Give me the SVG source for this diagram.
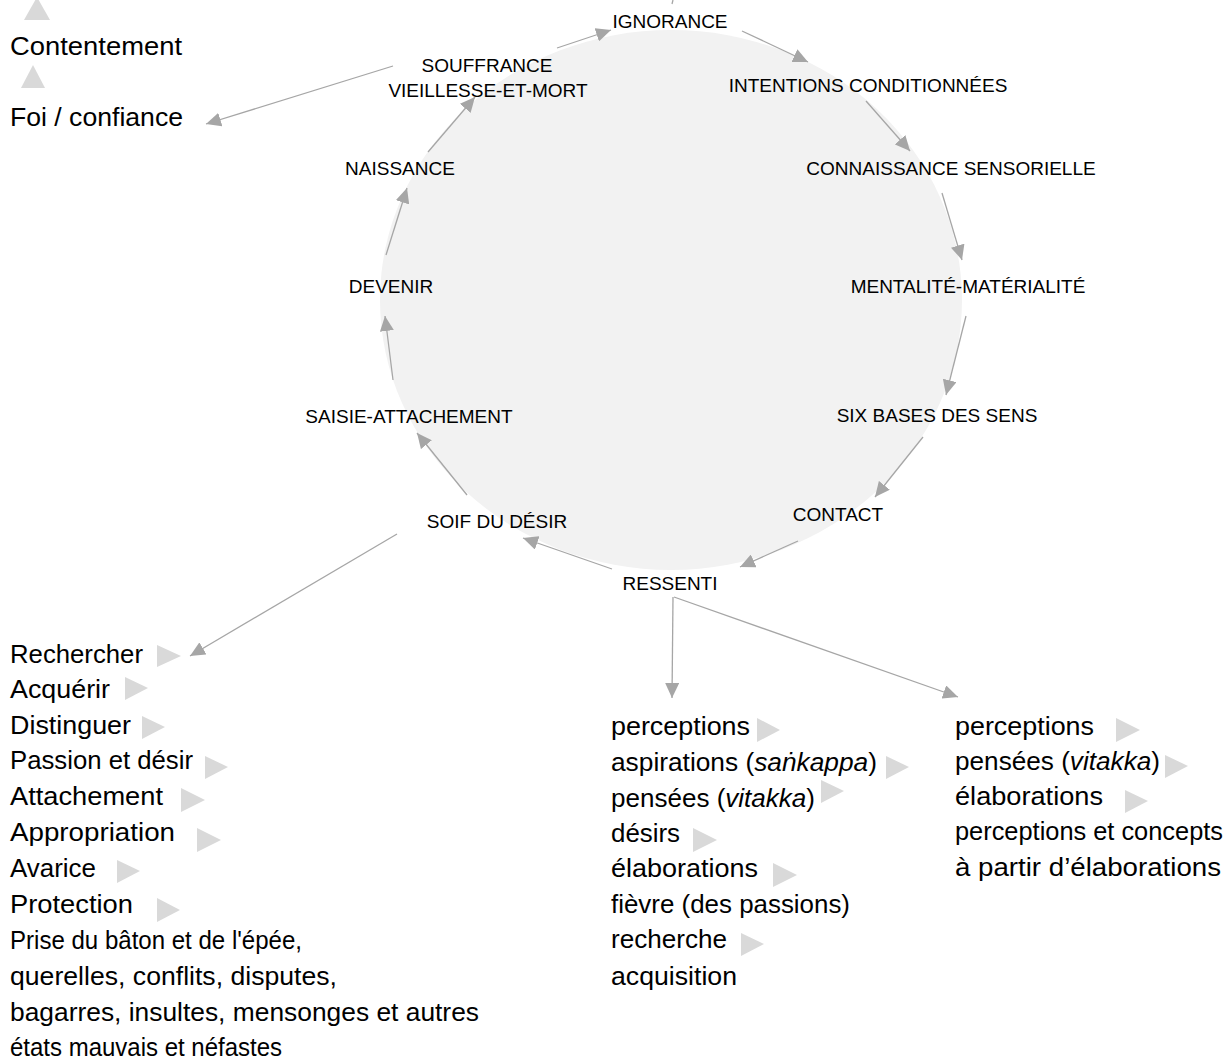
<svg xmlns="http://www.w3.org/2000/svg" width="1228" height="1061" viewBox="0 0 1228 1061">
<defs>
<style>
.lbl{font-family:"Liberation Sans",Arial,sans-serif;font-size:19px;fill:#000;text-anchor:middle}
.lst{font-family:"Liberation Sans",Arial,sans-serif;font-size:26px;fill:#000}
.it{font-style:italic}
.tri{fill:#d9d9d9}
.con{stroke:#a6a6a6;stroke-width:1.3;fill:none;marker-end:url(#ah)}
</style>
<marker id="ah" markerUnits="userSpaceOnUse" markerWidth="15" markerHeight="14" viewBox="0 0 15 14" refX="15" refY="7" orient="auto">
<path d="M0,0 L15,7 L0,14 z" fill="#a6a6a6"/>
</marker>
</defs>
<rect width="1228" height="1061" fill="#fff"/>
<ellipse id="cycle" cx="671" cy="300" rx="291" ry="270" fill="#f2f2f2"/>

<g id="connectors">
<line class="con" x1="557" y1="48" x2="611" y2="30"/>
<line class="con" x1="742" y1="31" x2="808" y2="62"/>
<line class="con" x1="866" y1="101" x2="910" y2="151"/>
<line class="con" x1="942" y1="193" x2="962" y2="260"/>
<line class="con" x1="966" y1="316" x2="946" y2="395"/>
<line class="con" x1="923" y1="437" x2="875" y2="497"/>
<line class="con" x1="798" y1="541" x2="740" y2="567"/>
<line class="con" x1="612" y1="569" x2="523" y2="538"/>
<line class="con" x1="467" y1="495" x2="417" y2="433"/>
<line class="con" x1="393" y1="380" x2="385" y2="316"/>
<line class="con" x1="386" y1="255" x2="407" y2="188"/>
<line class="con" x1="428" y1="152" x2="475" y2="97"/>
<line class="con" x1="393" y1="66" x2="206" y2="124"/>
<line class="con" x1="397" y1="534" x2="190" y2="656"/>
<line class="con" x1="673" y1="597" x2="672" y2="698"/>
<line class="con" x1="674" y1="597" x2="958" y2="697"/>
<line x1="673" y1="0" x2="672" y2="4" stroke="#a6a6a6" stroke-width="1.3"/>
</g>

<g id="n-ignorance"><text class="lbl" x="670" y="28">IGNORANCE</text></g>
<g id="n-intentions"><text class="lbl" x="868" y="92">INTENTIONS CONDITIONNÉES</text></g>
<g id="n-connaissance"><text class="lbl" x="951" y="175">CONNAISSANCE SENSORIELLE</text></g>
<g id="n-mentalite"><text class="lbl" x="968" y="293">MENTALITÉ-MATÉRIALITÉ</text></g>
<g id="n-sixbases"><text class="lbl" x="937" y="422">SIX BASES DES SENS</text></g>
<g id="n-contact"><text class="lbl" x="838" y="521">CONTACT</text></g>
<g id="n-ressenti"><text class="lbl" x="670" y="590">RESSENTI</text></g>
<g id="n-soif"><text class="lbl" x="497" y="528">SOIF DU DÉSIR</text></g>
<g id="n-saisie"><text class="lbl" x="409" y="423">SAISIE-ATTACHEMENT</text></g>
<g id="n-devenir"><text class="lbl" x="391" y="293">DEVENIR</text></g>
<g id="n-naissance"><text class="lbl" x="400" y="175">NAISSANCE</text></g>
<g id="n-souffrance"><text class="lbl" x="487" y="72">SOUFFRANCE</text><text class="lbl" x="488" y="97">VIEILLESSE-ET-MORT</text></g>

<g id="n-foi">
<polygon class="tri" points="24,20 50,20 37,-3"/>
<text class="lst" x="10" y="55" textLength="172" lengthAdjust="spacingAndGlyphs">Contentement</text>
<polygon class="tri" points="21,88 45,88 33,65"/>
<text class="lst" x="10" y="126" textLength="173" lengthAdjust="spacingAndGlyphs">Foi / confiance</text>
</g>

<g id="n-list-soif">
<text class="lst" x="10" y="663" textLength="133" lengthAdjust="spacingAndGlyphs">Rechercher</text>
<polygon class="tri" points="157,645 157,667 181,656"/>
<text class="lst" x="10" y="698" textLength="100" lengthAdjust="spacingAndGlyphs">Acquérir</text>
<polygon class="tri" points="125,677 125,700 148,688"/>
<text class="lst" x="10" y="734" textLength="121" lengthAdjust="spacingAndGlyphs">Distinguer</text>
<polygon class="tri" points="142,716 142,739 165,727"/>
<text class="lst" x="10" y="769" textLength="183" lengthAdjust="spacingAndGlyphs">Passion et désir</text>
<polygon class="tri" points="205,756 205,779 228,767"/>
<text class="lst" x="10" y="805" textLength="153" lengthAdjust="spacingAndGlyphs">Attachement</text>
<polygon class="tri" points="181,788 181,812 205,800"/>
<text class="lst" x="10" y="841" textLength="165" lengthAdjust="spacingAndGlyphs">Appropriation</text>
<polygon class="tri" points="197,828 197,852 221,840"/>
<text class="lst" x="10" y="877" textLength="86" lengthAdjust="spacingAndGlyphs">Avarice</text>
<polygon class="tri" points="117,860 117,883 140,871"/>
<text class="lst" x="10" y="913" textLength="123" lengthAdjust="spacingAndGlyphs">Protection</text>
<polygon class="tri" points="157,898 157,922 180,910"/>
<text class="lst" x="10" y="949" textLength="292" lengthAdjust="spacingAndGlyphs">Prise du bâton et de l'épée,</text>
<text class="lst" x="10" y="985" textLength="327" lengthAdjust="spacingAndGlyphs">querelles, conflits, disputes,</text>
<text class="lst" x="10" y="1021" textLength="469" lengthAdjust="spacingAndGlyphs">bagarres, insultes, mensonges et autres</text>
<text class="lst" x="10" y="1056" textLength="272" lengthAdjust="spacingAndGlyphs">états mauvais et néfastes</text>
</g>

<g id="n-list-ressenti-1">
<text class="lst" x="611" y="735" textLength="139" lengthAdjust="spacingAndGlyphs">perceptions</text>
<polygon class="tri" points="757,718 757,742 780,730"/>
<text class="lst" x="611" y="771" textLength="266" lengthAdjust="spacingAndGlyphs">aspirations (<tspan class="it">saṅkappa</tspan>)</text>
<polygon class="tri" points="886,756 886,779 909,767"/>
<text class="lst" x="611" y="807" textLength="204" lengthAdjust="spacingAndGlyphs">pensées (<tspan class="it">vitakka</tspan>)</text>
<polygon class="tri" points="821,780 821,803 844,791"/>
<text class="lst" x="611" y="842" textLength="69" lengthAdjust="spacingAndGlyphs">désirs</text>
<polygon class="tri" points="693,828 693,852 717,840"/>
<text class="lst" x="611" y="877" textLength="147" lengthAdjust="spacingAndGlyphs">élaborations</text>
<polygon class="tri" points="773,863 773,887 797,875"/>
<text class="lst" x="611" y="913" textLength="239" lengthAdjust="spacingAndGlyphs">fièvre (des passions)</text>
<text class="lst" x="611" y="948" textLength="116" lengthAdjust="spacingAndGlyphs">recherche</text>
<polygon class="tri" points="741,933 741,956 764,944"/>
<text class="lst" x="611" y="985" textLength="126" lengthAdjust="spacingAndGlyphs">acquisition</text>
</g>

<g id="n-list-ressenti-2">
<text class="lst" x="955" y="735" textLength="139" lengthAdjust="spacingAndGlyphs">perceptions</text>
<polygon class="tri" points="1116,718 1116,742 1140,730"/>
<text class="lst" x="955" y="770" textLength="205" lengthAdjust="spacingAndGlyphs">pensées (<tspan class="it">vitakka</tspan>)</text>
<polygon class="tri" points="1165,755 1165,778 1188,766"/>
<text class="lst" x="955" y="805" textLength="148" lengthAdjust="spacingAndGlyphs">élaborations</text>
<polygon class="tri" points="1125,790 1125,813 1148,801"/>
<text class="lst" x="955" y="840" textLength="268" lengthAdjust="spacingAndGlyphs">perceptions et concepts</text>
<text class="lst" x="955" y="876" textLength="266" lengthAdjust="spacingAndGlyphs">à partir d’élaborations</text>
</g>
</svg>
